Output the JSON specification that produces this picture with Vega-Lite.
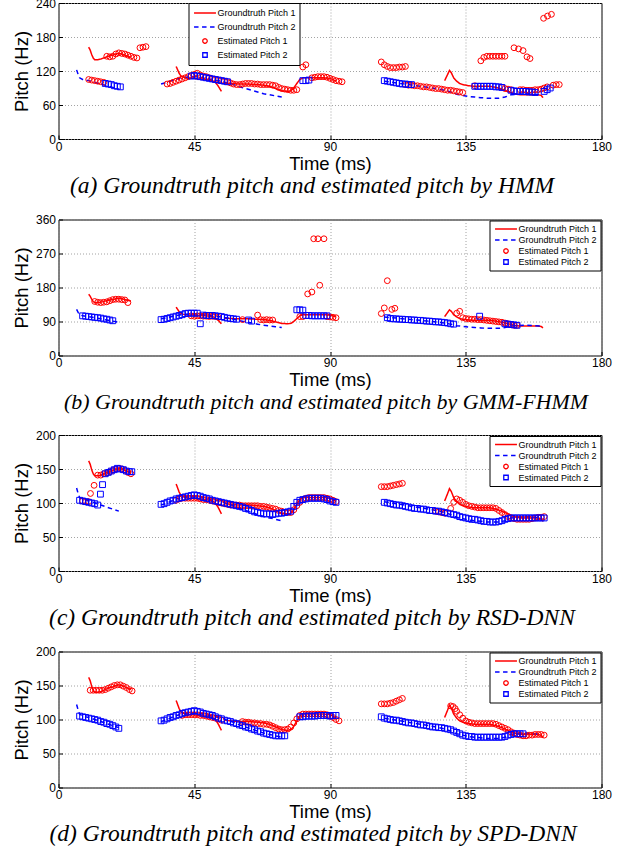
{
"$schema":"https://vega.github.io/schema/vega-lite/v6.json",
"background":"white",
"padding":{"left":11.5,"top":-4,"right":0,"bottom":0},
"spacing":14.5,
"config":{
 "font":"Liberation Sans",
 "view":{"stroke":"black","strokeWidth":1},
 "axis":{"labelFont":"Liberation Sans","labelFontSize":12,"labelColor":"black","titleFont":"Liberation Sans","titleFontSize":18.5,"titleFontWeight":"normal","titleColor":"black","grid":true,"gridColor":"#8c8c8c","gridDash":[1,2],"gridWidth":0.8,"domain":false,"ticks":true,"tickColor":"black","tickSize":-4,"labelFlush":false,"labelOverlap":false},
 "axisX":{"labelPadding":6,"titlePadding":2},
 "axisY":{"labelPadding":7,"titlePadding":4},
 "legend":{"labelFont":"Liberation Sans","labelFontSize":9,"labelColor":"black","strokeColor":"black","fillColor":"white","padding":3,"symbolSize":20,"symbolStrokeWidth":1.3,"symbolOffset":9,"labelOffset":8,"rowPadding":0,"cornerRadius":0},
 "title":{"font":"Liberation Serif","fontSize":23.5,"fontStyle":"italic","fontWeight":"normal","color":"black","orient":"bottom","anchor":"middle","frame":"group","offset":1}
},
"resolve":{"scale":{"color":"independent","shape":"independent","strokeDash":"independent"},"legend":{"color":"independent","shape":"independent","strokeDash":"independent"}},
"datasets":{
"gt":[
{"s":"G1","k":1,"t":10,"f":162},{"s":"G1","k":1,"t":10.5,"f":157},{"s":"G1","k":1,"t":11,"f":149},{"s":"G1","k":1,"t":11.5,"f":143},{"s":"G1","k":1,"t":12,"f":140},{"s":"G1","k":1,"t":13,"f":140},{"s":"G1","k":1,"t":14,"f":141},{"s":"G1","k":1,"t":15,"f":143},{"s":"G1","k":1,"t":16,"f":145},{"s":"G1","k":1,"t":17,"f":147},{"s":"G1","k":1,"t":18,"f":148},{"s":"G1","k":1,"t":19,"f":150},{"s":"G1","k":1,"t":20,"f":151},{"s":"G1","k":1,"t":21,"f":150},{"s":"G1","k":1,"t":22,"f":148},{"s":"G1","k":1,"t":23,"f":146},{"s":"G1","k":1,"t":24,"f":144},
{"s":"G1","k":2,"t":39,"f":128},{"s":"G1","k":2,"t":39.5,"f":122},{"s":"G1","k":2,"t":40,"f":116},{"s":"G1","k":2,"t":40.5,"f":112},{"s":"G1","k":2,"t":41,"f":110},{"s":"G1","k":2,"t":42,"f":108},{"s":"G1","k":2,"t":43,"f":107},{"s":"G1","k":2,"t":44,"f":107},{"s":"G1","k":2,"t":45,"f":107},{"s":"G1","k":2,"t":46,"f":106},{"s":"G1","k":2,"t":47,"f":106},{"s":"G1","k":2,"t":48,"f":105},{"s":"G1","k":2,"t":49,"f":105},{"s":"G1","k":2,"t":50,"f":104},{"s":"G1","k":2,"t":51,"f":103},{"s":"G1","k":2,"t":52,"f":100},{"s":"G1","k":2,"t":53,"f":93},{"s":"G1","k":2,"t":54,"f":84},
{"s":"G1","k":3,"t":55,"f":99},{"s":"G1","k":3,"t":57,"f":98},{"s":"G1","k":3,"t":60,"f":97},{"s":"G1","k":3,"t":63,"f":97},{"s":"G1","k":3,"t":66,"f":96},{"s":"G1","k":3,"t":68,"f":95},{"s":"G1","k":3,"t":70,"f":93},{"s":"G1","k":3,"t":72,"f":89},{"s":"G1","k":3,"t":74,"f":85},{"s":"G1","k":3,"t":76,"f":84},{"s":"G1","k":3,"t":77,"f":85},{"s":"G1","k":3,"t":78,"f":90},{"s":"G1","k":3,"t":79,"f":98},{"s":"G1","k":3,"t":80,"f":105},{"s":"G1","k":3,"t":81,"f":108},{"s":"G1","k":3,"t":83,"f":108},{"s":"G1","k":3,"t":86,"f":108},{"s":"G1","k":3,"t":88,"f":108},{"s":"G1","k":3,"t":90,"f":107},{"s":"G1","k":3,"t":91,"f":105},{"s":"G1","k":3,"t":92,"f":102},
{"s":"G1","k":4,"t":128,"f":103},{"s":"G1","k":4,"t":129,"f":114},{"s":"G1","k":4,"t":129.6,"f":121},{"s":"G1","k":4,"t":130.2,"f":117},{"s":"G1","k":4,"t":131,"f":108},{"s":"G1","k":4,"t":132,"f":102},{"s":"G1","k":4,"t":133,"f":98},{"s":"G1","k":4,"t":134,"f":96},{"s":"G1","k":4,"t":136,"f":94},{"s":"G1","k":4,"t":138,"f":93},{"s":"G1","k":4,"t":141,"f":93},{"s":"G1","k":4,"t":143,"f":93},{"s":"G1","k":4,"t":145,"f":91},{"s":"G1","k":4,"t":147,"f":88},{"s":"G1","k":4,"t":149,"f":84},{"s":"G1","k":4,"t":151,"f":80},{"s":"G1","k":4,"t":153,"f":78},{"s":"G1","k":4,"t":155,"f":78},{"s":"G1","k":4,"t":157,"f":78},{"s":"G1","k":4,"t":159,"f":78},{"s":"G1","k":4,"t":160,"f":77},{"s":"G1","k":4,"t":160.6,"f":73},
{"s":"G2","k":5,"t":6,"f":122},{"s":"G2","k":5,"t":6.5,"f":114},{"s":"G2","k":5,"t":7,"f":108},{"s":"G2","k":5,"t":8,"f":105},{"s":"G2","k":5,"t":10,"f":103},{"s":"G2","k":5,"t":12,"f":100},{"s":"G2","k":5,"t":14,"f":97},{"s":"G2","k":5,"t":16,"f":94},{"s":"G2","k":5,"t":18,"f":91},{"s":"G2","k":5,"t":20,"f":88},
{"s":"G2","k":6,"t":34,"f":97},{"s":"G2","k":6,"t":36,"f":100},{"s":"G2","k":6,"t":38,"f":104},{"s":"G2","k":6,"t":40,"f":107},{"s":"G2","k":6,"t":42,"f":109},{"s":"G2","k":6,"t":44,"f":110},{"s":"G2","k":6,"t":46,"f":110},{"s":"G2","k":6,"t":48,"f":108},{"s":"G2","k":6,"t":50,"f":106},{"s":"G2","k":6,"t":52,"f":104},{"s":"G2","k":6,"t":54,"f":102},{"s":"G2","k":6,"t":56,"f":99},{"s":"G2","k":6,"t":58,"f":96},{"s":"G2","k":6,"t":60,"f":92},{"s":"G2","k":6,"t":62,"f":89},{"s":"G2","k":6,"t":64,"f":86},{"s":"G2","k":6,"t":66,"f":83},{"s":"G2","k":6,"t":68,"f":80},{"s":"G2","k":6,"t":70,"f":78},{"s":"G2","k":6,"t":72,"f":76},{"s":"G2","k":6,"t":74,"f":74},
{"s":"G2","k":7,"t":108,"f":102},{"s":"G2","k":7,"t":112,"f":99},{"s":"G2","k":7,"t":116,"f":96},{"s":"G2","k":7,"t":120,"f":93},{"s":"G2","k":7,"t":124,"f":90},{"s":"G2","k":7,"t":128,"f":86},{"s":"G2","k":7,"t":130,"f":83},{"s":"G2","k":7,"t":132,"f":79},{"s":"G2","k":7,"t":134,"f":77},{"s":"G2","k":7,"t":136,"f":75},{"s":"G2","k":7,"t":138,"f":74},{"s":"G2","k":7,"t":140,"f":73},{"s":"G2","k":7,"t":142,"f":72},{"s":"G2","k":7,"t":144,"f":72},{"s":"G2","k":7,"t":146,"f":72},{"s":"G2","k":7,"t":148,"f":74},{"s":"G2","k":7,"t":150,"f":78},{"s":"G2","k":7,"t":152,"f":79},{"s":"G2","k":7,"t":155,"f":80},{"s":"G2","k":7,"t":158,"f":79},{"s":"G2","k":7,"t":160,"f":78}
],
"ea":[
{"s":"E1","t":10,"f":105},{"s":"E1","t":11,"f":104},{"s":"E1","t":12,"f":103},{"s":"E1","t":13,"f":102},{"s":"E1","t":14,"f":101},{"s":"E1","t":15,"f":100},
{"s":"E1","t":16,"f":146},{"s":"E1","t":17,"f":145},{"s":"E1","t":18,"f":146},{"s":"E1","t":19,"f":150},{"s":"E1","t":20,"f":152},{"s":"E1","t":21,"f":151},{"s":"E1","t":22,"f":150},{"s":"E1","t":23,"f":148},{"s":"E1","t":24,"f":146},{"s":"E1","t":25,"f":144},{"s":"E1","t":26,"f":143},
{"s":"E1","t":27,"f":161},{"s":"E1","t":28,"f":162},{"s":"E1","t":29,"f":163},
{"s":"E1","t":36,"f":97},{"s":"E1","t":37,"f":98},{"s":"E1","t":38,"f":100},{"s":"E1","t":39,"f":102},{"s":"E1","t":40,"f":104},{"s":"E1","t":41,"f":106},{"s":"E1","t":42,"f":108},{"s":"E1","t":43,"f":110},{"s":"E1","t":44,"f":112},{"s":"E1","t":45,"f":114},{"s":"E1","t":46,"f":116},{"s":"E1","t":47,"f":113},{"s":"E1","t":48,"f":111},{"s":"E1","t":49,"f":110},{"s":"E1","t":50,"f":108},{"s":"E1","t":51,"f":106},{"s":"E1","t":52,"f":105},{"s":"E1","t":53,"f":104},{"s":"E1","t":54,"f":103},{"s":"E1","t":55,"f":102},{"s":"E1","t":56,"f":101},{"s":"E1","t":57,"f":99},{"s":"E1","t":58,"f":97},{"s":"E1","t":59,"f":96},{"s":"E1","t":60,"f":96},{"s":"E1","t":61,"f":97},{"s":"E1","t":62,"f":98},{"s":"E1","t":63,"f":98},{"s":"E1","t":64,"f":98},{"s":"E1","t":65,"f":97},{"s":"E1","t":66,"f":97},{"s":"E1","t":67,"f":96},{"s":"E1","t":68,"f":96},{"s":"E1","t":69,"f":96},{"s":"E1","t":70,"f":96},{"s":"E1","t":71,"f":95},{"s":"E1","t":72,"f":94},{"s":"E1","t":73,"f":91},{"s":"E1","t":74,"f":89},{"s":"E1","t":75,"f":88},{"s":"E1","t":76,"f":87},{"s":"E1","t":77,"f":86},{"s":"E1","t":78,"f":86},{"s":"E1","t":79,"f":87},
{"s":"E1","t":81,"f":127},{"s":"E1","t":82,"f":131},
{"s":"E1","t":84,"f":108},{"s":"E1","t":85,"f":109},{"s":"E1","t":86,"f":110},{"s":"E1","t":87,"f":110},{"s":"E1","t":88,"f":110},{"s":"E1","t":89,"f":109},{"s":"E1","t":90,"f":107},{"s":"E1","t":91,"f":105},{"s":"E1","t":92,"f":103},{"s":"E1","t":93,"f":102},{"s":"E1","t":94,"f":101},
{"s":"E1","t":107,"f":136},{"s":"E1","t":108,"f":131},{"s":"E1","t":109,"f":128},{"s":"E1","t":110,"f":126},{"s":"E1","t":111,"f":126},{"s":"E1","t":112,"f":126},{"s":"E1","t":113,"f":127},{"s":"E1","t":114,"f":127},{"s":"E1","t":115,"f":128},
{"s":"E1","t":115,"f":96},{"s":"E1","t":116,"f":95},{"s":"E1","t":117,"f":95},{"s":"E1","t":118,"f":94},{"s":"E1","t":119,"f":94},{"s":"E1","t":120,"f":93},{"s":"E1","t":121,"f":92},{"s":"E1","t":122,"f":92},{"s":"E1","t":123,"f":91},{"s":"E1","t":124,"f":90},{"s":"E1","t":125,"f":89},{"s":"E1","t":126,"f":89},{"s":"E1","t":127,"f":88},{"s":"E1","t":128,"f":87},{"s":"E1","t":129,"f":86},{"s":"E1","t":130,"f":86},{"s":"E1","t":131,"f":85},{"s":"E1","t":132,"f":84},{"s":"E1","t":133,"f":83},{"s":"E1","t":134,"f":82},
{"s":"E1","t":138,"f":94},
{"s":"E1","t":140,"f":138},{"s":"E1","t":141,"f":144},{"s":"E1","t":142,"f":146},{"s":"E1","t":143,"f":146},{"s":"E1","t":144,"f":146},{"s":"E1","t":145,"f":146},{"s":"E1","t":146,"f":146},{"s":"E1","t":147,"f":146},{"s":"E1","t":148,"f":146},
{"s":"E1","t":147,"f":91},{"s":"E1","t":148,"f":89},{"s":"E1","t":149,"f":88},{"s":"E1","t":150,"f":87},{"s":"E1","t":153,"f":87},{"s":"E1","t":154,"f":87},{"s":"E1","t":155,"f":86},{"s":"E1","t":156,"f":86},{"s":"E1","t":157,"f":86},{"s":"E1","t":158,"f":87},{"s":"E1","t":159,"f":87},{"s":"E1","t":160,"f":88},{"s":"E1","t":161,"f":90},{"s":"E1","t":162,"f":92},{"s":"E1","t":164,"f":95},{"s":"E1","t":165,"f":96},{"s":"E1","t":166,"f":96},
{"s":"E1","t":151,"f":161},{"s":"E1","t":152.5,"f":159},{"s":"E1","t":154,"f":156},{"s":"E1","t":155.3,"f":145},{"s":"E1","t":156.3,"f":142},
{"s":"E1","t":160.8,"f":213},{"s":"E1","t":162.1,"f":217},{"s":"E1","t":163.4,"f":220},
{"s":"E2","t":15.5,"f":98},{"s":"E2","t":16.5,"f":97},{"s":"E2","t":17.5,"f":96},{"s":"E2","t":18.5,"f":94},{"s":"E2","t":19.5,"f":93},{"s":"E2","t":20.5,"f":92},
{"s":"E2","t":44,"f":111},{"s":"E2","t":45,"f":112},{"s":"E2","t":46,"f":111},{"s":"E2","t":47,"f":110},{"s":"E2","t":48,"f":109},{"s":"E2","t":49,"f":108},{"s":"E2","t":50,"f":107},{"s":"E2","t":51,"f":106},{"s":"E2","t":52,"f":105},{"s":"E2","t":53,"f":104},{"s":"E2","t":54,"f":103},{"s":"E2","t":55,"f":102},{"s":"E2","t":56,"f":101},
{"s":"E2","t":81,"f":103},{"s":"E2","t":82,"f":103},{"s":"E2","t":83,"f":104},
{"s":"E2","t":108,"f":103},{"s":"E2","t":109,"f":102},{"s":"E2","t":110,"f":101},{"s":"E2","t":111,"f":100},{"s":"E2","t":112,"f":99},{"s":"E2","t":113,"f":98},{"s":"E2","t":114,"f":97},{"s":"E2","t":115,"f":97},{"s":"E2","t":116,"f":96},{"s":"E2","t":117,"f":96},
{"s":"E2","t":138,"f":93},{"s":"E2","t":139,"f":93},{"s":"E2","t":140,"f":93},{"s":"E2","t":141,"f":93},{"s":"E2","t":142,"f":93},{"s":"E2","t":143,"f":93},{"s":"E2","t":144,"f":93},{"s":"E2","t":145,"f":92},{"s":"E2","t":146,"f":92},{"s":"E2","t":147,"f":91},
{"s":"E2","t":150,"f":86},{"s":"E2","t":151,"f":85},{"s":"E2","t":152,"f":84},{"s":"E2","t":153,"f":84},{"s":"E2","t":154,"f":84},{"s":"E2","t":155,"f":84},{"s":"E2","t":156,"f":83},{"s":"E2","t":157,"f":83},{"s":"E2","t":158,"f":82},{"s":"E2","t":161,"f":84},{"s":"E2","t":162,"f":87},{"s":"E2","t":163,"f":90}
],
"eb":[
{"s":"E1","t":12,"f":143},{"s":"E1","t":13,"f":141},{"s":"E1","t":14,"f":140},{"s":"E1","t":15,"f":141},{"s":"E1","t":16,"f":142},{"s":"E1","t":17,"f":145},{"s":"E1","t":18,"f":148},{"s":"E1","t":19,"f":149},{"s":"E1","t":20,"f":149},{"s":"E1","t":21,"f":148},{"s":"E1","t":22,"f":147},{"s":"E1","t":23,"f":140},
{"s":"E1","t":44,"f":105},{"s":"E1","t":45,"f":104},{"s":"E1","t":46,"f":105},{"s":"E1","t":47,"f":105},{"s":"E1","t":48,"f":104},{"s":"E1","t":49,"f":104},{"s":"E1","t":50,"f":103},{"s":"E1","t":51,"f":104},{"s":"E1","t":52,"f":103},{"s":"E1","t":53,"f":101},
{"s":"E1","t":61,"f":95},{"s":"E1","t":66,"f":107},{"s":"E1","t":67,"f":95},{"s":"E1","t":68,"f":94},{"s":"E1","t":69,"f":95},{"s":"E1","t":70,"f":94},{"s":"E1","t":71,"f":94},
{"s":"E1","t":80,"f":103},{"s":"E1","t":81,"f":103},
{"s":"E1","t":82.6,"f":163},{"s":"E1","t":84,"f":168},{"s":"E1","t":86.6,"f":186},
{"s":"E1","t":84.6,"f":309},{"s":"E1","t":86,"f":309},{"s":"E1","t":88,"f":309},
{"s":"E1","t":89,"f":103},{"s":"E1","t":90,"f":102},{"s":"E1","t":91,"f":101},{"s":"E1","t":92,"f":100},
{"s":"E1","t":107,"f":111},{"s":"E1","t":108,"f":126},{"s":"E1","t":109,"f":198},{"s":"E1","t":110.5,"f":122},{"s":"E1","t":111.5,"f":125},
{"s":"E1","t":132,"f":112},{"s":"E1","t":133,"f":117},{"s":"E1","t":134,"f":100},{"s":"E1","t":135,"f":98},{"s":"E1","t":136,"f":97},{"s":"E1","t":137,"f":96},{"s":"E1","t":138,"f":96},{"s":"E1","t":139,"f":95},{"s":"E1","t":140,"f":95},{"s":"E1","t":141,"f":94},{"s":"E1","t":142,"f":93},{"s":"E1","t":143,"f":92},{"s":"E1","t":144,"f":91},{"s":"E1","t":145,"f":90},{"s":"E1","t":146,"f":89},{"s":"E1","t":147,"f":88},{"s":"E1","t":148,"f":86},{"s":"E1","t":149,"f":84},{"s":"E1","t":150,"f":82},{"s":"E1","t":151,"f":80},{"s":"E1","t":152,"f":80},
{"s":"E2","t":8,"f":105},{"s":"E2","t":9,"f":104},{"s":"E2","t":10,"f":103},{"s":"E2","t":11,"f":102},{"s":"E2","t":12,"f":101},{"s":"E2","t":13,"f":100},{"s":"E2","t":14,"f":99},{"s":"E2","t":15,"f":97},{"s":"E2","t":16,"f":96},{"s":"E2","t":17,"f":94},{"s":"E2","t":18,"f":92},
{"s":"E2","t":34,"f":95},{"s":"E2","t":35,"f":96},{"s":"E2","t":36,"f":98},{"s":"E2","t":37,"f":100},{"s":"E2","t":38,"f":102},{"s":"E2","t":39,"f":104},{"s":"E2","t":40,"f":106},{"s":"E2","t":41,"f":108},{"s":"E2","t":42,"f":111},{"s":"E2","t":43,"f":112},{"s":"E2","t":44,"f":112},{"s":"E2","t":45,"f":112},{"s":"E2","t":46,"f":112},{"s":"E2","t":47,"f":84},{"s":"E2","t":48,"f":107},{"s":"E2","t":49,"f":106},{"s":"E2","t":50,"f":106},{"s":"E2","t":51,"f":106},{"s":"E2","t":52,"f":105},{"s":"E2","t":53,"f":104},{"s":"E2","t":54,"f":103},{"s":"E2","t":55,"f":101},{"s":"E2","t":56,"f":99},{"s":"E2","t":57,"f":98},{"s":"E2","t":58,"f":97},{"s":"E2","t":59,"f":96},
{"s":"E2","t":63,"f":94},{"s":"E2","t":64,"f":91},
{"s":"E2","t":79,"f":121},{"s":"E2","t":80,"f":121},{"s":"E2","t":81,"f":120},{"s":"E2","t":82,"f":106},{"s":"E2","t":83,"f":106},{"s":"E2","t":84,"f":105},{"s":"E2","t":85,"f":105},{"s":"E2","t":86,"f":105},{"s":"E2","t":87,"f":105},{"s":"E2","t":88,"f":105},{"s":"E2","t":89,"f":105},
{"s":"E2","t":109,"f":100},{"s":"E2","t":110,"f":98},{"s":"E2","t":111,"f":97},{"s":"E2","t":112,"f":97},{"s":"E2","t":113,"f":96},{"s":"E2","t":114,"f":96},{"s":"E2","t":115,"f":95},{"s":"E2","t":116,"f":95},{"s":"E2","t":117,"f":94},{"s":"E2","t":118,"f":94},{"s":"E2","t":119,"f":93},{"s":"E2","t":120,"f":93},{"s":"E2","t":121,"f":92},{"s":"E2","t":122,"f":91},{"s":"E2","t":123,"f":91},{"s":"E2","t":124,"f":90},{"s":"E2","t":125,"f":89},{"s":"E2","t":126,"f":89},{"s":"E2","t":127,"f":88},{"s":"E2","t":128,"f":87},{"s":"E2","t":129,"f":86},{"s":"E2","t":130,"f":84},{"s":"E2","t":131,"f":83},
{"s":"E2","t":139.6,"f":104},{"s":"E2","t":148,"f":84},{"s":"E2","t":149,"f":83},{"s":"E2","t":150,"f":82},{"s":"E2","t":151,"f":81},{"s":"E2","t":152,"f":80}
],
"ec":[
{"s":"E1","t":8,"f":103},{"s":"E1","t":9,"f":102},{"s":"E1","t":10,"f":102},{"s":"E1","t":10.6,"f":114},{"s":"E1","t":11.8,"f":126},{"s":"E1","t":13,"f":141},{"s":"E1","t":14,"f":141},{"s":"E1","t":15,"f":143},{"s":"E1","t":16,"f":144},{"s":"E1","t":17,"f":146},{"s":"E1","t":18,"f":148},{"s":"E1","t":19,"f":150},{"s":"E1","t":20,"f":151},{"s":"E1","t":21,"f":150},{"s":"E1","t":22,"f":148},{"s":"E1","t":23,"f":145},{"s":"E1","t":24,"f":143},
{"s":"E1","t":39,"f":104},{"s":"E1","t":40,"f":106},{"s":"E1","t":41,"f":107},{"s":"E1","t":42,"f":107},{"s":"E1","t":43,"f":107},{"s":"E1","t":44,"f":107},{"s":"E1","t":45,"f":107},{"s":"E1","t":46,"f":107},{"s":"E1","t":47,"f":106},{"s":"E1","t":48,"f":105},{"s":"E1","t":49,"f":105},{"s":"E1","t":50,"f":104},{"s":"E1","t":51,"f":103},{"s":"E1","t":52,"f":102},{"s":"E1","t":53,"f":101},{"s":"E1","t":54,"f":100},{"s":"E1","t":55,"f":99},{"s":"E1","t":56,"f":98},{"s":"E1","t":57,"f":97},{"s":"E1","t":58,"f":97},{"s":"E1","t":59,"f":97},{"s":"E1","t":60,"f":97},{"s":"E1","t":61,"f":96},{"s":"E1","t":62,"f":96},{"s":"E1","t":63,"f":96},{"s":"E1","t":64,"f":96},{"s":"E1","t":65,"f":96},{"s":"E1","t":66,"f":96},{"s":"E1","t":67,"f":95},{"s":"E1","t":68,"f":95},{"s":"E1","t":69,"f":94},{"s":"E1","t":70,"f":93},{"s":"E1","t":71,"f":92},{"s":"E1","t":72,"f":91},{"s":"E1","t":73,"f":89},{"s":"E1","t":74,"f":88},{"s":"E1","t":75,"f":86},{"s":"E1","t":76,"f":86},{"s":"E1","t":77,"f":86},{"s":"E1","t":78,"f":90},{"s":"E1","t":79,"f":96},{"s":"E1","t":80,"f":101},{"s":"E1","t":81,"f":105},{"s":"E1","t":82,"f":107},{"s":"E1","t":83,"f":108},{"s":"E1","t":84,"f":108},{"s":"E1","t":85,"f":108},{"s":"E1","t":86,"f":108},{"s":"E1","t":87,"f":108},{"s":"E1","t":88,"f":108},{"s":"E1","t":89,"f":107},{"s":"E1","t":90,"f":106},{"s":"E1","t":91,"f":104},{"s":"E1","t":92,"f":102},
{"s":"E1","t":107,"f":124},{"s":"E1","t":108,"f":124},{"s":"E1","t":109,"f":124},{"s":"E1","t":110,"f":125},{"s":"E1","t":111,"f":126},{"s":"E1","t":112,"f":127},{"s":"E1","t":113,"f":128},{"s":"E1","t":114,"f":129},
{"s":"E1","t":125,"f":88},{"s":"E1","t":126,"f":87},{"s":"E1","t":127,"f":86},{"s":"E1","t":128,"f":85},
{"s":"E1","t":130,"f":92},{"s":"E1","t":131,"f":101},{"s":"E1","t":132,"f":106},{"s":"E1","t":133,"f":104},{"s":"E1","t":134,"f":101},{"s":"E1","t":135,"f":98},{"s":"E1","t":136,"f":96},{"s":"E1","t":137,"f":95},{"s":"E1","t":138,"f":94},{"s":"E1","t":139,"f":93},{"s":"E1","t":140,"f":93},{"s":"E1","t":141,"f":93},{"s":"E1","t":142,"f":93},{"s":"E1","t":143,"f":93},{"s":"E1","t":144,"f":93},{"s":"E1","t":145,"f":92},{"s":"E1","t":146,"f":89},{"s":"E1","t":147,"f":86},{"s":"E1","t":148,"f":83},{"s":"E1","t":149,"f":80},{"s":"E1","t":150,"f":78},{"s":"E1","t":151,"f":77},{"s":"E1","t":152,"f":76},{"s":"E1","t":153,"f":76},{"s":"E1","t":154,"f":76},{"s":"E1","t":155,"f":76},{"s":"E1","t":156,"f":76},{"s":"E1","t":157,"f":77},{"s":"E1","t":158,"f":78},{"s":"E1","t":159,"f":79},{"s":"E1","t":160,"f":79},{"s":"E1","t":161,"f":80},
{"s":"E2","t":7,"f":104},{"s":"E2","t":8,"f":103},{"s":"E2","t":9,"f":102},{"s":"E2","t":10,"f":101},{"s":"E2","t":11,"f":100},{"s":"E2","t":12,"f":99},{"s":"E2","t":13,"f":97},
{"s":"E2","t":13.9,"f":113},{"s":"E2","t":14.6,"f":127},
{"s":"E2","t":15.5,"f":143},{"s":"E2","t":16.5,"f":145},{"s":"E2","t":17.5,"f":147},{"s":"E2","t":18.5,"f":149},{"s":"E2","t":19.5,"f":151},{"s":"E2","t":20.5,"f":150},{"s":"E2","t":21.5,"f":149},{"s":"E2","t":22.5,"f":147},{"s":"E2","t":23.5,"f":146},{"s":"E2","t":24.3,"f":146},
{"s":"E2","t":34,"f":98},{"s":"E2","t":35,"f":99},{"s":"E2","t":36,"f":101},{"s":"E2","t":37,"f":103},{"s":"E2","t":38,"f":104},{"s":"E2","t":39,"f":106},{"s":"E2","t":40,"f":107},{"s":"E2","t":41,"f":108},{"s":"E2","t":42,"f":109},{"s":"E2","t":43,"f":110},{"s":"E2","t":44,"f":111},{"s":"E2","t":45,"f":112},{"s":"E2","t":46,"f":111},{"s":"E2","t":47,"f":110},{"s":"E2","t":48,"f":108},{"s":"E2","t":49,"f":107},{"s":"E2","t":50,"f":106},{"s":"E2","t":51,"f":104},{"s":"E2","t":52,"f":103},{"s":"E2","t":53,"f":102},{"s":"E2","t":54,"f":101},{"s":"E2","t":55,"f":100},{"s":"E2","t":56,"f":99},{"s":"E2","t":57,"f":98},{"s":"E2","t":58,"f":97},{"s":"E2","t":59,"f":96},{"s":"E2","t":60,"f":95},{"s":"E2","t":61,"f":94},{"s":"E2","t":62,"f":92},{"s":"E2","t":63,"f":91},{"s":"E2","t":64,"f":89},{"s":"E2","t":65,"f":87},{"s":"E2","t":66,"f":86},{"s":"E2","t":67,"f":85},{"s":"E2","t":68,"f":84},{"s":"E2","t":69,"f":84},{"s":"E2","t":70,"f":84},{"s":"E2","t":71,"f":83},{"s":"E2","t":72,"f":84},{"s":"E2","t":73,"f":85},{"s":"E2","t":74,"f":85},{"s":"E2","t":75,"f":86},{"s":"E2","t":76,"f":87},{"s":"E2","t":77,"f":88},{"s":"E2","t":78,"f":95},{"s":"E2","t":79,"f":101},{"s":"E2","t":80,"f":104},{"s":"E2","t":81,"f":105},{"s":"E2","t":82,"f":106},{"s":"E2","t":83,"f":107},{"s":"E2","t":84,"f":107},{"s":"E2","t":85,"f":107},{"s":"E2","t":86,"f":107},{"s":"E2","t":87,"f":107},{"s":"E2","t":88,"f":106},{"s":"E2","t":89,"f":105},{"s":"E2","t":90,"f":103},{"s":"E2","t":91,"f":102},{"s":"E2","t":92,"f":101},
{"s":"E2","t":108,"f":101},{"s":"E2","t":109,"f":100},{"s":"E2","t":110,"f":99},{"s":"E2","t":111,"f":98},{"s":"E2","t":112,"f":97},{"s":"E2","t":113,"f":97},{"s":"E2","t":114,"f":96},{"s":"E2","t":115,"f":95},{"s":"E2","t":116,"f":94},{"s":"E2","t":117,"f":93},{"s":"E2","t":118,"f":92},{"s":"E2","t":119,"f":92},{"s":"E2","t":120,"f":91},{"s":"E2","t":121,"f":91},{"s":"E2","t":122,"f":90},{"s":"E2","t":123,"f":89},{"s":"E2","t":124,"f":89},{"s":"E2","t":125,"f":88},{"s":"E2","t":126,"f":88},{"s":"E2","t":127,"f":87},{"s":"E2","t":128,"f":86},{"s":"E2","t":129,"f":85},{"s":"E2","t":130,"f":84},{"s":"E2","t":131,"f":83},{"s":"E2","t":132,"f":82},{"s":"E2","t":133,"f":80},{"s":"E2","t":134,"f":79},{"s":"E2","t":135,"f":78},{"s":"E2","t":136,"f":77},{"s":"E2","t":137,"f":76},{"s":"E2","t":138,"f":76},{"s":"E2","t":139,"f":75},{"s":"E2","t":140,"f":74},{"s":"E2","t":141,"f":73},{"s":"E2","t":142,"f":73},{"s":"E2","t":143,"f":72},{"s":"E2","t":144,"f":72},{"s":"E2","t":145,"f":72},{"s":"E2","t":146,"f":73},{"s":"E2","t":147,"f":74},{"s":"E2","t":148,"f":76},{"s":"E2","t":149,"f":77},{"s":"E2","t":150,"f":78},{"s":"E2","t":151,"f":78},{"s":"E2","t":152,"f":78},{"s":"E2","t":153,"f":78},{"s":"E2","t":154,"f":78},{"s":"E2","t":155,"f":78},{"s":"E2","t":156,"f":78},{"s":"E2","t":157,"f":78},{"s":"E2","t":158,"f":78},{"s":"E2","t":159,"f":78},{"s":"E2","t":160,"f":78},{"s":"E2","t":161,"f":78}
],
"ed":[
{"s":"E1","t":10.5,"f":143},{"s":"E1","t":11.5,"f":143},{"s":"E1","t":12.5,"f":143},{"s":"E1","t":13.5,"f":143},{"s":"E1","t":14.5,"f":143},{"s":"E1","t":15.5,"f":144},{"s":"E1","t":16.5,"f":146},{"s":"E1","t":17.5,"f":148},{"s":"E1","t":18.5,"f":150},{"s":"E1","t":19.5,"f":151},{"s":"E1","t":20.5,"f":151},{"s":"E1","t":21.5,"f":149},{"s":"E1","t":22.5,"f":147},{"s":"E1","t":23.5,"f":144},{"s":"E1","t":24.4,"f":142},
{"s":"E1","t":41,"f":106},{"s":"E1","t":42,"f":107},{"s":"E1","t":43,"f":107},{"s":"E1","t":44,"f":107},{"s":"E1","t":45,"f":107},{"s":"E1","t":46,"f":107},{"s":"E1","t":47,"f":106},{"s":"E1","t":48,"f":106},{"s":"E1","t":49,"f":105},{"s":"E1","t":50,"f":104},{"s":"E1","t":51,"f":103},{"s":"E1","t":52,"f":102},{"s":"E1","t":53,"f":101},{"s":"E1","t":54,"f":99},
{"s":"E1","t":61,"f":97},{"s":"E1","t":62,"f":96},{"s":"E1","t":63,"f":96},{"s":"E1","t":64,"f":95},{"s":"E1","t":65,"f":95},{"s":"E1","t":66,"f":94},{"s":"E1","t":67,"f":94},{"s":"E1","t":68,"f":93},{"s":"E1","t":69,"f":93},{"s":"E1","t":70,"f":92},{"s":"E1","t":71,"f":90},{"s":"E1","t":72,"f":88},{"s":"E1","t":73,"f":86},{"s":"E1","t":74,"f":85},{"s":"E1","t":75,"f":85},{"s":"E1","t":76,"f":86},{"s":"E1","t":77,"f":89},{"s":"E1","t":78,"f":95},{"s":"E1","t":79,"f":101},{"s":"E1","t":80,"f":106},{"s":"E1","t":81,"f":108},{"s":"E1","t":82,"f":108},{"s":"E1","t":83,"f":108},{"s":"E1","t":84,"f":108},{"s":"E1","t":85,"f":108},{"s":"E1","t":86,"f":108},{"s":"E1","t":87,"f":108},{"s":"E1","t":88,"f":108},{"s":"E1","t":89,"f":107},{"s":"E1","t":90,"f":105},{"s":"E1","t":91,"f":103},{"s":"E1","t":92,"f":100},{"s":"E1","t":93,"f":98},
{"s":"E1","t":107,"f":123},{"s":"E1","t":108,"f":123},{"s":"E1","t":109,"f":123},{"s":"E1","t":110,"f":124},{"s":"E1","t":111,"f":125},{"s":"E1","t":112,"f":127},{"s":"E1","t":113,"f":129},{"s":"E1","t":114,"f":131},
{"s":"E1","t":130,"f":120},{"s":"E1","t":130.8,"f":119},{"s":"E1","t":131.5,"f":116},{"s":"E1","t":132,"f":112},{"s":"E1","t":133,"f":107},{"s":"E1","t":134,"f":102},{"s":"E1","t":135,"f":98},{"s":"E1","t":136,"f":96},{"s":"E1","t":137,"f":95},{"s":"E1","t":138,"f":94},{"s":"E1","t":139,"f":94},{"s":"E1","t":140,"f":94},{"s":"E1","t":141,"f":94},{"s":"E1","t":142,"f":94},{"s":"E1","t":143,"f":94},{"s":"E1","t":144,"f":94},{"s":"E1","t":145,"f":93},{"s":"E1","t":146,"f":91},{"s":"E1","t":147,"f":89},{"s":"E1","t":148,"f":87},{"s":"E1","t":149,"f":85},{"s":"E1","t":150,"f":82},{"s":"E1","t":151,"f":80},{"s":"E1","t":152,"f":78},{"s":"E1","t":153,"f":77},{"s":"E1","t":154,"f":76},{"s":"E1","t":155,"f":76},{"s":"E1","t":156,"f":77},{"s":"E1","t":157,"f":77},{"s":"E1","t":158,"f":78},{"s":"E1","t":159,"f":78},{"s":"E1","t":160,"f":78},{"s":"E1","t":161,"f":77},
{"s":"E2","t":7,"f":105},{"s":"E2","t":8,"f":104},{"s":"E2","t":9,"f":103},{"s":"E2","t":10,"f":102},{"s":"E2","t":11,"f":101},{"s":"E2","t":12,"f":100},{"s":"E2","t":13,"f":99},{"s":"E2","t":14,"f":97},{"s":"E2","t":15,"f":96},{"s":"E2","t":16,"f":94},{"s":"E2","t":17,"f":93},{"s":"E2","t":18,"f":91},{"s":"E2","t":19,"f":89},{"s":"E2","t":20,"f":87},
{"s":"E2","t":34,"f":98},{"s":"E2","t":35,"f":99},{"s":"E2","t":36,"f":101},{"s":"E2","t":37,"f":103},{"s":"E2","t":38,"f":104},{"s":"E2","t":39,"f":106},{"s":"E2","t":40,"f":107},{"s":"E2","t":41,"f":109},{"s":"E2","t":42,"f":110},{"s":"E2","t":43,"f":111},{"s":"E2","t":44,"f":112},{"s":"E2","t":45,"f":113},{"s":"E2","t":46,"f":112},{"s":"E2","t":47,"f":111},{"s":"E2","t":48,"f":109},{"s":"E2","t":49,"f":108},{"s":"E2","t":50,"f":107},{"s":"E2","t":51,"f":106},{"s":"E2","t":52,"f":104},{"s":"E2","t":53,"f":102},{"s":"E2","t":54,"f":101},{"s":"E2","t":55,"f":99},{"s":"E2","t":56,"f":98},{"s":"E2","t":57,"f":97},{"s":"E2","t":58,"f":95},{"s":"E2","t":59,"f":94},{"s":"E2","t":60,"f":92},{"s":"E2","t":61,"f":91},{"s":"E2","t":62,"f":89},{"s":"E2","t":63,"f":88},{"s":"E2","t":64,"f":86},{"s":"E2","t":65,"f":85},{"s":"E2","t":66,"f":83},{"s":"E2","t":67,"f":82},{"s":"E2","t":68,"f":80},{"s":"E2","t":69,"f":79},{"s":"E2","t":70,"f":78},{"s":"E2","t":71,"f":77},{"s":"E2","t":72,"f":76},{"s":"E2","t":73,"f":76},{"s":"E2","t":74,"f":76},{"s":"E2","t":75,"f":76},
{"s":"E2","t":80,"f":104},{"s":"E2","t":81,"f":104},{"s":"E2","t":82,"f":105},{"s":"E2","t":83,"f":105},{"s":"E2","t":84,"f":105},{"s":"E2","t":85,"f":105},{"s":"E2","t":86,"f":106},{"s":"E2","t":87,"f":106},{"s":"E2","t":88,"f":106},{"s":"E2","t":89,"f":106},{"s":"E2","t":90,"f":105},{"s":"E2","t":91,"f":106},{"s":"E2","t":92,"f":106},
{"s":"E2","t":107,"f":104},{"s":"E2","t":108,"f":102},{"s":"E2","t":109,"f":101},{"s":"E2","t":110,"f":100},{"s":"E2","t":111,"f":99},{"s":"E2","t":112,"f":99},{"s":"E2","t":113,"f":98},{"s":"E2","t":114,"f":97},{"s":"E2","t":115,"f":96},{"s":"E2","t":116,"f":95},{"s":"E2","t":117,"f":95},{"s":"E2","t":118,"f":94},{"s":"E2","t":119,"f":93},{"s":"E2","t":120,"f":92},{"s":"E2","t":121,"f":92},{"s":"E2","t":122,"f":91},{"s":"E2","t":123,"f":90},{"s":"E2","t":124,"f":89},{"s":"E2","t":125,"f":89},{"s":"E2","t":126,"f":88},{"s":"E2","t":127,"f":88},{"s":"E2","t":128,"f":87},{"s":"E2","t":129,"f":86},{"s":"E2","t":130,"f":85},{"s":"E2","t":131,"f":83},{"s":"E2","t":132,"f":81},{"s":"E2","t":133,"f":79},{"s":"E2","t":134,"f":77},{"s":"E2","t":135,"f":76},{"s":"E2","t":136,"f":75},{"s":"E2","t":137,"f":75},{"s":"E2","t":138,"f":74},{"s":"E2","t":139,"f":74},{"s":"E2","t":140,"f":74},{"s":"E2","t":141,"f":74},{"s":"E2","t":142,"f":74},{"s":"E2","t":143,"f":74},{"s":"E2","t":144,"f":74},{"s":"E2","t":145,"f":74},{"s":"E2","t":146,"f":74},{"s":"E2","t":147,"f":74},{"s":"E2","t":148,"f":75},{"s":"E2","t":149,"f":77},{"s":"E2","t":150,"f":78},{"s":"E2","t":151,"f":79},{"s":"E2","t":152,"f":79},{"s":"E2","t":153,"f":79},{"s":"E2","t":154,"f":79}
]
},
"vconcat":[
{
 "width":543,"height":136,
 "title":{"text":"(a) Groundtruth pitch and estimated pitch by HMM","dx":-18},
 "encoding":{
  "x":{"field":"t","type":"quantitative","scale":{"domain":[0,180],"nice":false},"axis":{"values":[0,45,90,135,180],"title":"Time (ms)"}},
  "y":{"field":"f","type":"quantitative","scale":{"domain":[0,240],"nice":false},"axis":{"values":[0,60,120,180,240],"title":"Pitch (Hz)"}}
 },
 "layer":[
  {"data":{"name":"gt"},"mark":{"type":"line","strokeWidth":1.5},
   "encoding":{
    "color":{"field":"s","type":"nominal","scale":{"domain":["G1","G2","E1","E2"],"range":["#ff0000","#0000ff","#ff0000","#0000ff"]}},
    "strokeDash":{"field":"s","type":"nominal","scale":{"domain":["G1","G2","E1","E2"],"range":[[1,0],[4.5,3.5],[1,0],[1,0]]}},
    "detail":{"field":"k","type":"nominal"}}},
  {"data":{"name":"ea"},"mark":{"type":"point","filled":false,"size":34,"strokeWidth":1,"opacity":1},
   "encoding":{
    "color":{"field":"s","type":"nominal","scale":{"domain":["G1","G2","E1","E2"],"range":["#ff0000","#0000ff","#ff0000","#0000ff"]},
      "legend":{"title":null,"orient":"none","legendX":130,"legendY":0,"clipHeight":14,"labelExpr":"{'G1':'Groundtruth Pitch 1','G2':'Groundtruth Pitch 2','E1':'Estimated Pitch 1','E2':'Estimated Pitch 2'}[datum.label]"}},
    "shape":{"field":"s","type":"nominal","scale":{"domain":["G1","G2","E1","E2"],"range":["M-4.9,0H4.9","M-4.9,0H4.9","circle","square"]}}}}
 ]
},
{
 "width":543,"height":136,
 "title":{"text":"(b) Groundtruth pitch and estimated pitch by GMM-FHMM","dx":-4,"fontSize":21.9,"offset":3},
 "encoding":{
  "x":{"field":"t","type":"quantitative","scale":{"domain":[0,180],"nice":false},"axis":{"values":[0,45,90,135,180],"title":"Time (ms)"}},
  "y":{"field":"f","type":"quantitative","scale":{"domain":[0,360],"nice":false},"axis":{"values":[0,90,180,270,360],"title":"Pitch (Hz)"}}
 },
 "layer":[
  {"data":{"name":"gt"},"mark":{"type":"line","strokeWidth":1.5},
   "encoding":{
    "color":{"field":"s","type":"nominal","scale":{"domain":["G1","G2","E1","E2"],"range":["#ff0000","#0000ff","#ff0000","#0000ff"]}},
    "strokeDash":{"field":"s","type":"nominal","scale":{"domain":["G1","G2","E1","E2"],"range":[[1,0],[4.5,3.5],[1,0],[1,0]]}},
    "detail":{"field":"k","type":"nominal"}}},
  {"data":{"name":"eb"},"mark":{"type":"point","filled":false,"size":34,"strokeWidth":1,"opacity":1},
   "encoding":{
    "color":{"field":"s","type":"nominal","scale":{"domain":["G1","G2","E1","E2"],"range":["#ff0000","#0000ff","#ff0000","#0000ff"]},
      "legend":{"title":null,"orient":"top-right","offset":1,"clipHeight":11,"labelExpr":"{'G1':'Groundtruth Pitch 1','G2':'Groundtruth Pitch 2','E1':'Estimated Pitch 1','E2':'Estimated Pitch 2'}[datum.label]"}},
    "shape":{"field":"s","type":"nominal","scale":{"domain":["G1","G2","E1","E2"],"range":["M-4.9,0H4.9","M-4.9,0H4.9","circle","square"]}}}}
 ]
},
{
 "width":543,"height":136,
 "title":{"text":"(c) Groundtruth pitch and estimated pitch by RSD-DNN","dx":-18},
 "encoding":{
  "x":{"field":"t","type":"quantitative","scale":{"domain":[0,180],"nice":false},"axis":{"values":[0,45,90,135,180],"title":"Time (ms)"}},
  "y":{"field":"f","type":"quantitative","scale":{"domain":[0,200],"nice":false},"axis":{"values":[0,50,100,150,200],"title":"Pitch (Hz)"}}
 },
 "layer":[
  {"data":{"name":"gt"},"mark":{"type":"line","strokeWidth":1.5},
   "encoding":{
    "color":{"field":"s","type":"nominal","scale":{"domain":["G1","G2","E1","E2"],"range":["#ff0000","#0000ff","#ff0000","#0000ff"]}},
    "strokeDash":{"field":"s","type":"nominal","scale":{"domain":["G1","G2","E1","E2"],"range":[[1,0],[4.5,3.5],[1,0],[1,0]]}},
    "detail":{"field":"k","type":"nominal"}}},
  {"data":{"name":"ec"},"mark":{"type":"point","filled":false,"size":34,"strokeWidth":1,"opacity":1},
   "encoding":{
    "color":{"field":"s","type":"nominal","scale":{"domain":["G1","G2","E1","E2"],"range":["#ff0000","#0000ff","#ff0000","#0000ff"]},
      "legend":{"title":null,"orient":"top-right","offset":1,"clipHeight":11,"labelExpr":"{'G1':'Groundtruth Pitch 1','G2':'Groundtruth Pitch 2','E1':'Estimated Pitch 1','E2':'Estimated Pitch 2'}[datum.label]"}},
    "shape":{"field":"s","type":"nominal","scale":{"domain":["G1","G2","E1","E2"],"range":["M-4.9,0H4.9","M-4.9,0H4.9","circle","square"]}}}}
 ]
},
{
 "width":543,"height":136,
 "title":{"text":"(d) Groundtruth pitch and estimated pitch by SPD-DNN","dx":-17},
 "encoding":{
  "x":{"field":"t","type":"quantitative","scale":{"domain":[0,180],"nice":false},"axis":{"values":[0,45,90,135,180],"title":"Time (ms)"}},
  "y":{"field":"f","type":"quantitative","scale":{"domain":[0,200],"nice":false},"axis":{"values":[0,50,100,150,200],"title":"Pitch (Hz)"}}
 },
 "layer":[
  {"data":{"name":"gt"},"mark":{"type":"line","strokeWidth":1.5},
   "encoding":{
    "color":{"field":"s","type":"nominal","scale":{"domain":["G1","G2","E1","E2"],"range":["#ff0000","#0000ff","#ff0000","#0000ff"]}},
    "strokeDash":{"field":"s","type":"nominal","scale":{"domain":["G1","G2","E1","E2"],"range":[[1,0],[4.5,3.5],[1,0],[1,0]]}},
    "detail":{"field":"k","type":"nominal"}}},
  {"data":{"name":"ed"},"mark":{"type":"point","filled":false,"size":34,"strokeWidth":1,"opacity":1},
   "encoding":{
    "color":{"field":"s","type":"nominal","scale":{"domain":["G1","G2","E1","E2"],"range":["#ff0000","#0000ff","#ff0000","#0000ff"]},
      "legend":{"title":null,"orient":"top-right","offset":1,"clipHeight":11,"labelExpr":"{'G1':'Groundtruth Pitch 1','G2':'Groundtruth Pitch 2','E1':'Estimated Pitch 1','E2':'Estimated Pitch 2'}[datum.label]"}},
    "shape":{"field":"s","type":"nominal","scale":{"domain":["G1","G2","E1","E2"],"range":["M-4.9,0H4.9","M-4.9,0H4.9","circle","square"]}}}}
 ]
}
]
}
